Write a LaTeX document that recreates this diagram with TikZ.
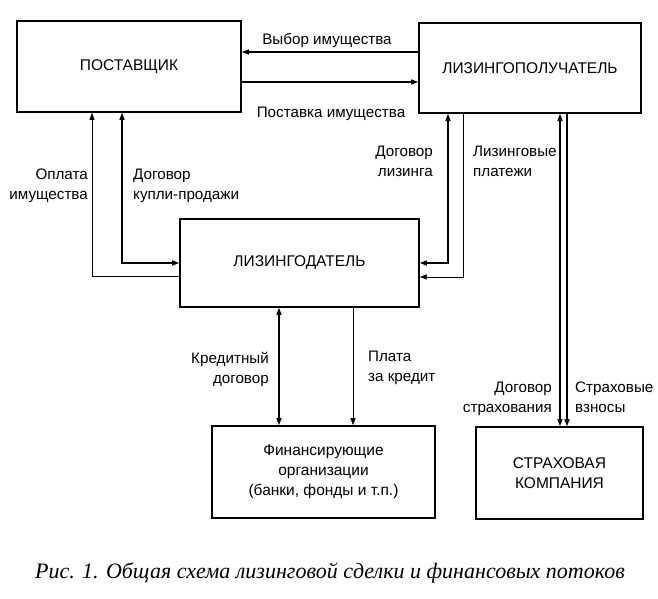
\documentclass[tikz,border=0pt]{standalone}
\usepackage{fontspec}
\setmainfont{Liberation Sans}
\newfontfamily\capfont{Liberation Serif}
\usetikzlibrary{arrows.meta}
\begin{document}
\begin{tikzpicture}[x=1pt,y=-1pt,
  boxst/.style={draw, line width=1.6pt, rectangle, inner sep=0pt, align=center,
    font=\fontsize{15.5}{20}\selectfont},
  lbl/.style={inner sep=0pt, font=\fontsize{15.2}{20}\selectfont},
  conn/.style={line width=0.7pt},
  connb/.style={line width=1.2pt},
  >={Triangle[length=7pt,width=5pt]}]
\useasboundingbox (0,0) rectangle (658,598);
% boxes
\node[boxst, minimum width=224pt, minimum height=91pt] (post) at (129,66.5) {ПОСТАВЩИК};
\node[boxst, minimum width=222pt, minimum height=90pt] (lpol) at (530,68) {ЛИЗИНГОПОЛУЧАТЕЛЬ};
\node[boxst, minimum width=239pt, minimum height=88pt] (ldat) at (299.5,263) {ЛИЗИНГОДАТЕЛЬ};
\node[boxst, minimum width=223pt, minimum height=92pt] (fin) at (323.5,472) {Финансирующие\\организации\\(банки, фонды и т.п.)};
\node[boxst, minimum width=167pt, minimum height=92pt] (strah) at (559.5,473) {СТРАХОВАЯ\\КОМПАНИЯ};
% connectors top
\draw[connb,->] ([yshift=16pt]lpol.west) -- ([yshift=16pt]lpol.west -| post.east);
\draw[connb,->] ([yshift=-15.5pt]post.east) -- ([yshift=-15.5pt]post.east -| lpol.west);
% left connectors
\draw[conn,->] ([yshift=-13pt]ldat.west) -| ([xshift=-37pt]post.south);
\draw[connb,<->] ([xshift=-7pt]post.south) |- (ldat.west);
% right connectors
\draw[connb,<->] ([xshift=-82pt]lpol.south) |- (ldat.east);
\draw[conn,->] ([xshift=-67pt]lpol.south) |- ([yshift=-14pt]ldat.east);
% insurance
\draw[connb,<->] ([xshift=30pt]lpol.south) -- ([xshift=30pt]lpol.south |- strah.north);
\draw[connb,->] ([xshift=37pt]lpol.south) -- ([xshift=37pt]lpol.south |- strah.north);
% financing
\draw[connb,<->] ([xshift=-20.5pt]ldat.south) -- ([xshift=-20.5pt]ldat.south |- fin.north);
\draw[conn,->] ([xshift=53.5pt]ldat.south) -- ([xshift=53.5pt]ldat.south |- fin.north);
% labels
\node[lbl, anchor=base] (l1) at (327,44) {Выбор имущества};
\node[lbl, anchor=base] (l2) at (331,117) {Поставка имущества};
\node[lbl, anchor=north east, align=right] (l3) at (88,168.5) {Оплата\\имущества};
\node[lbl, anchor=north west, align=left] (l4) at (133,168.5) {Договор\\купли-продажи};
\node[lbl, anchor=north east, align=right] (l5) at (433,145.5) {Договор\\лизинга};
\node[lbl, anchor=north west, align=left] (l6) at (473,145.5) {Лизинговые\\платежи};
\node[lbl, anchor=north east, align=right] (l7) at (269,352.5) {Кредитный\\договор};
\node[lbl, anchor=north west, align=left] (l8) at (368,350.5) {Плата\\за кредит};
\node[lbl, anchor=north east, align=right] (l9) at (552,381.5) {Договор\\страхования};
\node[lbl, anchor=north west, align=left] (l10) at (575,381.5) {Страховые\\взносы};
\node[inner sep=0pt, anchor=base, font=\capfont\itshape\fontsize{22}{24}\selectfont] (cap) at (330,578) {Рис. 1. Общая схема лизинговой сделки и финансовых потоков};
\end{tikzpicture}
\end{document}
